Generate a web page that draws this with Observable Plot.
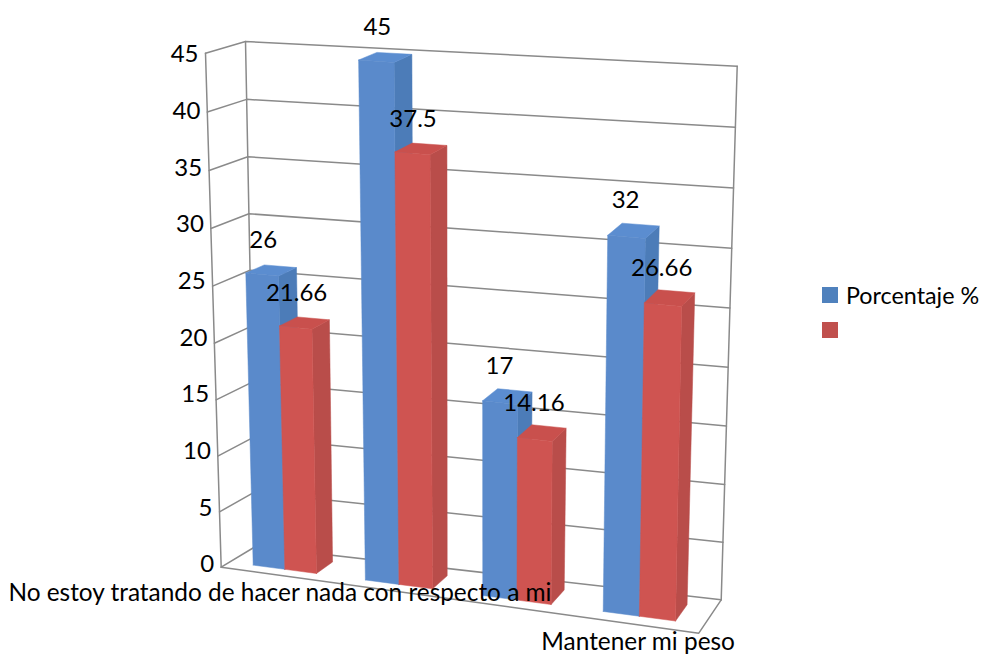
<!DOCTYPE html>
<html>
<head>
<meta charset="utf-8">
<script src="https://cdn.jsdelivr.net/npm/d3@7"></script>
<script src="https://cdn.jsdelivr.net/npm/@observablehq/plot@0.6"></script>
<style>
  html, body { margin: 0; background: #fff; }
  #chart { position: relative; width: 983px; height: 655px; font-family: Lato, sans-serif; color: #000; }
  #chart svg { display: block; }
  .legend-item { position: absolute; left: 822px; display: flex; align-items: center; font-size: 23.3px; line-height: 16px; }
  .legend-item i { display: block; width: 16px; height: 16px; margin-right: 8px; }
</style>
</head>
<body>
<div id="chart"></div>
<script>
// Survey results, one value per category for each series.
const categories = ["No estoy tratando de hacer nada con respecto a mi", "", "", "Mantener mi peso"];
const porcentaje = [26, 45, 17, 32];
const segundaSerie = [21.66, 37.5, 14.16, 26.66];
const valueTicks = [0, 5, 10, 15, 20, 25, 30, 35, 40, 45];
const valueMax = 45;

// Corners of the 3D plot box on the page, indexed [u][v][w]:
// u runs along the categories, v up the values, w from front to back.
const box = [
  [[[220.7, 566.7], [255, 546]], [[205, 52.7], [245, 41]]],
  [[[698.3, 632.7], [720.7, 599.3]], [[709, 90], [736.7, 65.7]]]
];
const lerp = (a, b, t) => [a[0] + (b[0] - a[0]) * t, a[1] + (b[1] - a[1]) * t];
const foreshorten = 0.035; // vertical perspective: lower values sit closer together
function project(u, value, w) {
  const n = value / valueMax;
  const v = n - foreshorten * n * (1 - n);
  const side = (i) => lerp(lerp(box[i][0][0], box[i][0][1], w), lerp(box[i][1][0], box[i][1][1], w), v);
  return lerp(side(0), side(1), u);
}

// Gridlines and frame of the walls and floor.
const frame = [];
const addPath = (id, pts) => pts.forEach(([u, v, w]) => {
  const [x, y] = project(u, v, w);
  frame.push({id, x, y});
});
valueTicks.forEach((t) => addPath(`grid${t}`, [[0, t, 0], [0, t, 1], [1, t, 1]]));
addPath("front-left", [[0, 0, 0], [0, valueMax, 0]]);
addPath("back-left", [[0, 0, 1], [0, valueMax, 1]]);
addPath("back-right", [[1, 0, 1], [1, valueMax, 1]]);
addPath("floor", [[0, 0, 0], [1, 0, 0], [1, 0, 1]]);

// Bar geometry in box units; the groups widen slightly towards the viewer.
const groupCenters = [0.116, 0.3565, 0.605, 0.863];
const barWidths = [0.0667, 0.0708, 0.072, 0.0762];
const barFront = 0.25;
const barBack = 0.75;
const series = [
  {values: porcentaje, shift: -1, front: "#5A8ACB", side: "#4C7CB8", top: "#5B8DD0"},
  {values: segundaSerie, shift: 0, front: "#CF5451", side: "#B94D4A", top: "#C9504D"}
];

const faces = [];
categories.forEach((_, i) => {
  series.forEach((s, k) => {
    const u0 = groupCenters[i] + s.shift * barWidths[i];
    const u1 = u0 + barWidths[i];
    const v = s.values[i];
    const quads = {
      side: [[u1, 0, barFront], [u1, 0, barBack], [u1, v, barBack], [u1, v, barFront]],
      top: [[u0, v, barFront], [u1, v, barFront], [u1, v, barBack], [u0, v, barBack]],
      front: [[u0, 0, barFront], [u1, 0, barFront], [u1, v, barFront], [u0, v, barFront]]
    };
    for (const name of ["side", "top", "front"]) {
      [...quads[name], quads[name][0]].forEach(([a, b, c]) => {
        const [x, y] = project(a, b, c);
        faces.push({id: `${i}-${k}-${name}`, x, y, color: s[name]});
      });
    }
  });
});

const barLabels = [];
categories.forEach((_, i) => {
  series.forEach((s) => {
    const u = groupCenters[i] + (s.shift + 0.5) * barWidths[i];
    const [x, y] = project(u, s.values[i], (barFront + barBack) / 2);
    barLabels.push({x, y, text: String(s.values[i])});
  });
});
// Axis numbers are evenly spaced, independent of the wall's perspective.
const labelY = d3.scaleLinear([0, valueMax], [566, 56]);
const valueLabels = valueTicks.map((t) => {
  const [x] = project(0, t, 0);
  return {x, y: labelY(t), text: String(t)};
});
const categoryLabels = categories.map((text, i) => {
  const [x, y] = project((i + 0.5) / categories.length, 0, 0);
  return {x, y, text};
}).filter((d) => d.text);

const width = 983;
const height = 655;
const chart = Plot.plot({
  width,
  height,
  margin: 0,
  style: {background: "#fff", fontFamily: "Lato, sans-serif"},
  x: {domain: [0, width], range: [0, width], axis: null},
  y: {domain: [0, height], range: [0, height], axis: null},
  color: {type: "identity"},
  marks: [
    Plot.line(frame, {x: "x", y: "y", z: "id", stroke: "#8a8a8a", strokeWidth: 1.5}),
    Plot.line(faces, {x: "x", y: "y", z: "id", fill: "color", stroke: "color", strokeWidth: 0.5}),
    Plot.text(valueLabels, {x: "x", y: "y", text: "text", textAnchor: "end", dx: -7, dy: -2, fontSize: 24, fill: "#000"}),
    Plot.text(barLabels, {x: "x", y: "y", text: "text", dx: -8, dy: -30, fontSize: 24, fill: "#000"}),
    Plot.text(categoryLabels, {x: "x", y: "y", text: "text", dx: -1, dy: 17.5, fontSize: 24.4, fill: "#000"})
  ]
});

const root = document.getElementById("chart");
root.append(chart);

// Legend on the right; the second series has no name.
[["Porcentaje %", "#4F81BD", 287], ["", "#C0504D", 322]].forEach(([name, color, top]) => {
  const item = document.createElement("div");
  item.className = "legend-item";
  item.style.top = `${top}px`;
  const swatch = document.createElement("i");
  swatch.style.background = color;
  item.append(swatch, document.createTextNode(name));
  root.append(item);
});
</script>
</body>
</html>
